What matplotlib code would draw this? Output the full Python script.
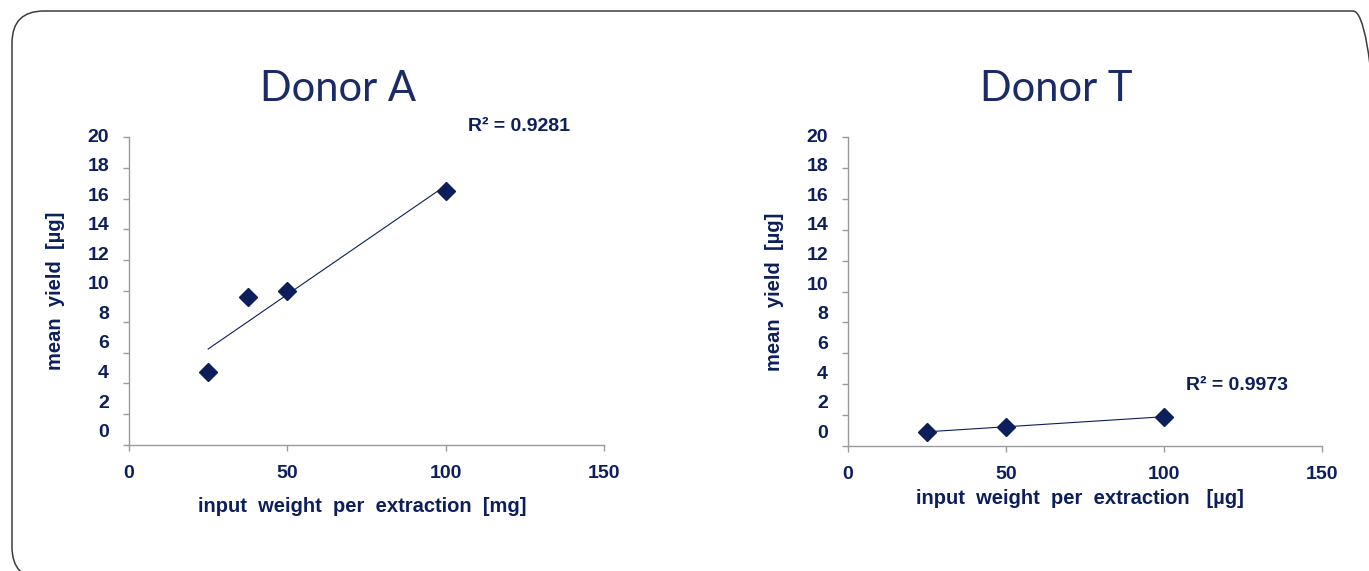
import numpy as np
import matplotlib
matplotlib.use("Agg")
import matplotlib.pyplot as plt
from matplotlib.patches import FancyBboxPatch
from matplotlib.transforms import blended_transform_factory

# data
donor_a_x = [25, 37.5, 50, 100]
donor_a_y = [4.75, 9.6, 10.0, 16.5]
donor_t_x = [25, 50, 100]
donor_t_y = [0.93, 1.23, 1.9]

titles = ["Donor A", "Donor T"]
r2_labels = ["R² = 0.9281", "R² = 0.9973"]
x_labels = ["input  weight  per  extraction  [mg]", "input  weight  per  extraction   [µg]"]
y_label = "mean  yield  [µg]"
x_ticks = [0, 50, 100, 150]
y_ticks = list(range(0, 21, 2))

navy = "#0c1f5b"
title_col = "#1b2b66"
axis_gray = "#9a9a9a"
W, H = 1369, 571

plt.rcParams["font.family"] = ["Liberation Sans", "DejaVu Sans"]

fig = plt.figure(figsize=(W / 100, H / 100), dpi=100)
fig.patch.set_facecolor("white")

# background axes in pixel units for the rounded slide frame (cut off at right/bottom)
bg = fig.add_axes([0, 0, 1, 1])
bg.set_xlim(0, W)
bg.set_ylim(0, H)
bg.axis("off")
bg.add_patch(FancyBboxPatch((12, -8), 1373, 568, boxstyle="round,pad=0,rounding_size=32",
                            fill=False, edgecolor="#3c3c3c", linewidth=1.1, clip_on=False))

ax_a = fig.add_axes([129 / W, 1 - 445 / H, 475 / W, 308 / H])
ax_t = fig.add_axes([848 / W, 1 - 446 / H, 474 / W, 309 / H])

panels = [
    (ax_a, donor_a_x, donor_a_y, 0),
    (ax_t, donor_t_x, donor_t_y, 1),
]

for ax, xs, ys, i in panels:
    xs = np.array(xs)
    ys = np.array(ys)
    # linear trendline
    k, b = np.polyfit(xs, ys, 1)
    fit_x = np.array([xs.min(), xs.max()])
    ax.plot(fit_x, k * fit_x + b, color=navy, linewidth=0.8, zorder=2)
    ax.plot(xs, ys, linestyle="none", marker="D", markersize=9, color=navy,
            markeredgecolor=navy, zorder=3)

    ax.set_xlim(0, 150)
    ax.set_ylim(0, 20)
    ax.set_xticks(x_ticks)
    ax.set_yticks(y_ticks)
    ax.set_yticklabels([])
    ax.patch.set_alpha(0)
    for s in ["top", "right"]:
        ax.spines[s].set_visible(False)
    for s in ["left", "bottom"]:
        ax.spines[s].set_color(axis_gray)
        ax.spines[s].set_linewidth(1)
    ax.tick_params(direction="out", length=4.5, width=1, color=axis_gray,
                   labelsize=14, labelcolor=navy)
    ax.tick_params(axis="x", pad=10)
    for lab in ax.get_xticklabels():
        lab.set_fontweight("bold")

    # y tick labels sit slightly compressed towards the top, as in the original
    tr = blended_transform_factory(ax.transAxes, ax.transAxes)
    for v in y_ticks:
        frac = v / 20 * (1 - 0.04) + 0.04
        ax.text(-0.042, frac, str(v), transform=tr, ha="right", va="center",
                fontsize=14, fontweight="bold", color=navy)

    ax.set_xlabel(x_labels[i], fontsize=14.5, fontweight="bold", color=navy)
    ax.set_ylabel(y_label, fontsize=14.5, fontweight="bold", color=navy)
    ax.text(0.44, 1.155, titles[i], transform=ax.transAxes, ha="center", va="center",
            fontsize=30, family=["Lato", "DejaVu Sans"], color=title_col)

ax_a.xaxis.set_label_coords(0.49, -0.168)
ax_t.xaxis.set_label_coords(0.49, -0.139)
ax_a.yaxis.set_label_coords(-0.135, 0.5)
ax_t.yaxis.set_label_coords(-0.135, 0.5)

ax_a.text(0.82, 1.035, r2_labels[0], transform=ax_a.transAxes, ha="center", va="center",
          fontsize=14, fontweight="bold", color=navy)
ax_t.text(0.82, 0.195, r2_labels[1], transform=ax_t.transAxes, ha="center", va="center",
          fontsize=14, fontweight="bold", color=navy)

fig.savefig("out.png", dpi=100)
plt.close(fig)
